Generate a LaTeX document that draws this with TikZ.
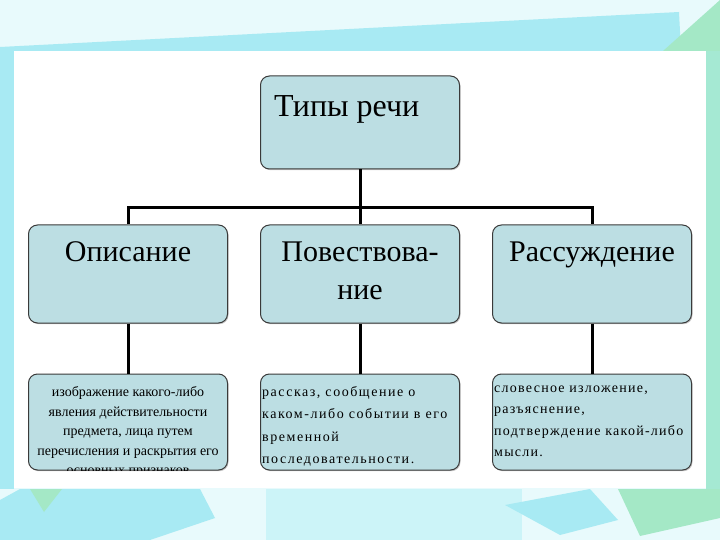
\documentclass[tikz,border=0pt]{standalone}
\usepackage{fontspec}
\setmainfont{Liberation Serif}
\usetikzlibrary{positioning,shadows}
\definecolor{boxfill}{HTML}{BCDEE3}
\definecolor{boxline}{HTML}{3A3A3A}
\definecolor{skyA}{HTML}{E8FAFC}
\definecolor{skyB}{HTML}{A8EAF3}
\definecolor{skyC}{HTML}{CCF4F8}
\definecolor{leaf}{HTML}{A4E8C6}
\tikzset{%
  kind box/.style={draw=boxline, line width=1pt, fill=boxfill, rounded corners=9pt,
    minimum width=199pt, inner sep=0pt,
    drop shadow={shadow xshift=1pt, shadow yshift=-1.2pt, opacity=.45}},
  head text/.style={inner sep=0pt, font=\fontsize{30}{38}\selectfont, align=center},
  note text/.style={inner sep=0pt, font=\fontsize{14}{19.5}\selectfont},
  link/.style={line width=3pt, draw=black},
}
\newcommand{\Backdrop}{
  \fill[skyA] (0,0) rectangle (720,540);
  \fill[skyB] (0,47) -- (679,12) -- (681,51) -- (0,51) -- cycle;
  \fill[leaf] (663,51) -- (720,0) -- (720,51) -- cycle;
  \fill[skyB] (0,51) rectangle (14,489);
  \fill[leaf!70!skyB] (706,51) rectangle (720,489);
  \fill[skyB] (20,489) -- (200,489) -- (215,518) -- (150,540) -- (0,540) -- (0,500) -- cycle;
  \fill[leaf] (30,489) -- (62,489) -- (44,512) -- cycle;
  \fill[skyC] (266,489) rectangle (522,540);
  \fill[skyB] (505,505) -- (590,489) -- (618,520) -- (560,535) -- cycle;
  \fill[leaf] (618,489) -- (720,489) -- (720,518) -- (640,536) -- cycle;
  \fill[white] (14,51) rectangle (706,488);% panel
}

\begin{document}
\begin{tikzpicture}[x=1pt,y=-1pt]
  \useasboundingbox (0,0) rectangle (720,540);
  \Backdrop
  \coordinate (bar) at (360,208);
  % boxes
  \node[kind box, minimum height=93pt] (tipy) at (360,122.5) {};
  \node[kind box, minimum height=98pt] (opis) at (128,274) {};
  \node[kind box, minimum height=98pt] (povest) at (360,274) {};
  \node[kind box, minimum height=98pt] (rassuzh) at (592,274) {};
  \node[kind box, minimum height=96pt] (opisD) at (128,422) {};
  \node[kind box, minimum height=96pt] (povestD) at (360,422) {};
  \node[kind box, minimum height=96pt] (rassuzhD) at (592,422) {};
  % connectors
  \draw[link] (tipy.south) -- (bar);
  \draw[link] (opis.north) |- (bar) -| (rassuzh.north);
  \draw[link] (bar) -- (povest.north);
  \draw[link] (opis.south) -- (opisD.north);
  \draw[link] (povest.south) -- (povestD.north);
  \draw[link] (rassuzh.south) -- (rassuzhD.north);
  % titles (base = last line)
  \node[head text, anchor=base west, font=\fontsize{32}{38}\selectfont] (tipyT)
    at ([xshift=14pt,yshift=-41pt]tipy.north west) {Типы речи};
  \node[head text, anchor=base] (opisT) at ([yshift=-37pt]opis.north) {Описание};
  \node[head text, anchor=base] (povestT) at ([yshift=-75pt]povest.north) {Повествова-\\ние};
  \node[head text, anchor=base] (rassuzhT) at ([yshift=-37pt]rassuzh.north) {Рассуждение};
  % notes
  \begin{scope}
    \clip[rounded corners=9pt] (opisD.south west) rectangle (opisD.north east);
    \node[note text, align=center, anchor=base] (opisN) at ([yshift=-101pt]opisD.north)
      {изображение какого-либо\\явления действительности\\предмета, лица путем\\перечисления и раскрытия его\\основных признаков};
  \end{scope}
  \node[note text, align=left, anchor=base west, font=\fontsize{14}{22.5}\selectfont\addfontfeatures{LetterSpace=11}]
    (povestN) at ([xshift=2pt,yshift=-90pt]povestD.north west)
    {рассказ, сообщение о\\каком-либо событии в его\\временной\\последовательности.};
  \node[note text, align=left, anchor=base west, font=\fontsize{14}{21.3}\selectfont\addfontfeatures{LetterSpace=9}]
    (rassuzhN) at ([xshift=2pt,yshift=-83pt]rassuzhD.north west)
    {словесное изложение,\\разъяснение,\\подтверждение какой-либо\\мысли.};
\end{tikzpicture}
\end{document}
